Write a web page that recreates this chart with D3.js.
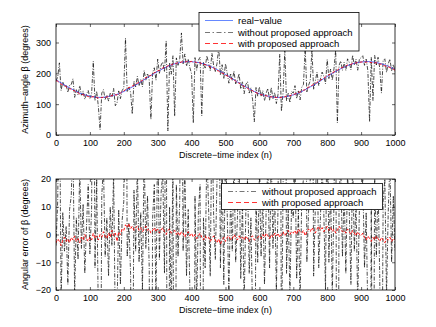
<!DOCTYPE html>
<html><head><meta charset="utf-8">
<script src="https://cdn.jsdelivr.net/npm/d3@7/dist/d3.min.js"></script>
<style>body{margin:0;background:#fff}svg{display:block}text{font-family:"Liberation Sans",Arial,sans-serif;fill:#000}</style>
</head><body><div id="c"></div>
<script>
// n = 0,5,10,...,1000
const step = 5;
const realValue = [
179,176,172,169,165,162,159,156,153,150,
147,144,141,139,136,134,132,130,129,127,
126,125,124,123,122,122,122,122,122,123,
124,125,126,127,129,130,132,134,136,139,
141,144,147,150,153,156,159,162,165,169,
172,176,179,183,186,190,193,196,200,203,
206,209,212,215,218,220,223,225,227,229,
231,232,234,235,236,237,237,238,238,238,
238,237,237,236,235,234,232,231,229,227,
225,223,220,218,215,212,209,206,203,200,
196,193,190,186,183,179,176,172,169,165,
162,159,156,153,150,147,144,141,139,136,
134,132,130,129,127,126,125,124,123,122,
122,122,122,122,123,124,125,126,127,129,
130,132,134,136,139,141,144,147,150,153,
156,159,162,165,169,172,176,179,183,186,
190,193,196,200,203,206,209,212,215,218,
220,223,225,227,229,231,232,234,235,236,
237,237,238,238,238,238,237,237,236,235,
234,232,231,229,227,225,223,220,218,215,
212];
// angular error without proposed approach (degrees)
const errWithout = [
-4,12,62,-25,8,-6,3,-18,9,14,
35,-22,6,-9,24,-5,11,-14,3,18,
-7,9,115,-12,20,-30,-105,14,25,-8,
6,-15,10,-4,22,-35,-28,9,-18,5,
12,170,-8,4,-14,-88,16,-6,25,-10,
8,-20,30,-5,14,-12,-142,6,18,-25,
40,-9,15,22,-14,85,-210,10,-30,28,
-170,18,-8,12,95,-6,26,-15,9,-20,
-40,-198,14,-26,8,18,-170,6,-12,30,
10,-15,45,7,-9,20,75,-12,25,-18,
35,8,-22,14,-6,28,-10,5,30,-16,
12,-25,8,20,-14,6,-30,-98,15,-10,
22,-8,14,-18,9,25,-12,30,-5,16,
-20,10,140,-45,18,150,-14,9,-22,12,
6,28,-16,9,-25,14,20,135,-10,8,
20,118,-15,10,35,-12,6,25,8,-20,
55,-10,18,-22,12,70,-170,14,25,-8,
16,-14,22,9,-18,28,-6,12,-25,10,
14,20,-12,8,-30,-195,15,-125,22,-8,
18,-15,-95,12,20,-22,8,26,-10,14,
-6];
// angular error with proposed approach (degrees)
const errWith = [
-3,-1.5,-2.5,-4,-2,-1,-2.5,-1.5,-3,-1,
-2,-0.5,-2.5,-1.5,-3,-1,-2,0,-1.5,-2.5,
-1,-2,0.5,-1.5,-0.5,-2,0,-1,1,-0.5,
-1.5,0.5,-1,1.5,-0.5,0.5,-2.5,1,0,2,
1.5,3.5,2.5,4,2,3,1.5,2.5,3,1.5,
2.5,1,2,3,1.5,2,0.5,1.5,2.5,1,
2,0.5,1.5,2.5,1,0,1.5,2,0.5,1,
1.5,0,1,-0.5,1,0.5,-1,0.5,1,-0.5,
0.5,-1,0,-1.5,-0.5,0.5,-1,-2,-0.5,-1.5,
-1,-2.5,-1.5,-0.5,-2,-3,-1.5,-3.5,-2,-1,
-2.5,-1,-0.5,-2,-1.5,0,-1,-2,-0.5,-1.5,
-1,-2,-0.5,-1.5,-2.5,-1,-0.5,-2,-1.5,-1,
-0.5,-1.5,0,-1,0.5,-0.5,-1.5,0,-1,0.5,
-0.5,0.5,-1,0,1,-0.5,0.5,1.5,0,1,
0.5,1.5,0,2,1,0.5,1.5,-0.5,1,2,
1,2.5,1.5,0.5,2,3,1.5,2.5,1,2,
3,1.5,2.5,1,2,0.5,1.5,3,2,1,
1.5,0.5,2,1,0,1.5,0.5,-0.5,1,0,
-0.5,0.5,-1,-2,-0.5,-1.5,-2.5,-1,-2,-0.5,
-1.5,-2.5,-1,-2,-3,-1.5,-2,-1,-2.5,-1.5,
-2];
const xTicks = [0,100,200,300,400,500,600,700,800,900,1000];
const yTicksTop = [0,100,200,300];
const yTicksBot = [-20,-10,0,10,20];
const legendTop = ["real\u2212value","without proposed approach","with proposed approach"];
const legendBot = ["without proposed approach","with proposed approach"];
const xLabel = "Discrete\u2212time index (n)";
const yLabelTop = "Azimuth\u2212angle \u03b2 (degrees)";
const yLabelBot = "Angular error of \u03b2 (degrees)";

const W=436,H=327;
const svg=d3.select("#c").append("svg").attr("width",W).attr("height",H);
const L=56,R=395;
const x=d3.scaleLinear().domain([0,1000]).range([L,R]);
const nIdx = realValue.map((_,i)=>i*step);

const topWithout = realValue.map((v,i)=>v+errWithout[i]);
const topWith = realValue.map((v,i)=>v+errWith[i]);

const sty={
  real:{stroke:"#2244ff",dash:null,w:0.8},
  without:{stroke:"#000",dash:"4,1.5,1,1.5",w:0.7},
  with:{stroke:"#ff0000",dash:"3,2",w:0.9}
};
const legDash={real:null,without:"5,2.5,1.5,2.5",with:"5,3"};
const legCol={real:"#6688ff",without:"#777",with:"#ff3333"};
const FS=9;

function panel(id,y0,y1,yDom,yTicks,series,yLab,xlabY,legend){
  const y=d3.scaleLinear().domain(yDom).range([y1,y0]);
  const g=svg.append("g");
  g.append("clipPath").attr("id",id).append("rect").attr("x",L).attr("y",y0).attr("width",R-L).attr("height",y1-y0);
  const pg=g.append("g").attr("clip-path",`url(#${id})`);
  series.forEach(s=>{
    const line=d3.line().x((d,i)=>x(nIdx[i])).y(d=>y(d));
    pg.append("path").attr("d",line(s.data)).attr("fill","none")
      .attr("stroke",sty[s.k].stroke).attr("stroke-width",sty[s.k].w)
      .attr("stroke-dasharray",sty[s.k].dash);
  });
  const ax=d3.axisBottom(x).tickValues(xTicks).tickSize(-3).tickPadding(5).tickFormat(d3.format("d"));
  const axT=d3.axisTop(x).tickValues(xTicks).tickSize(-3).tickFormat("");
  const ay=d3.axisLeft(y).tickValues(yTicks).tickSize(-3).tickPadding(5).tickFormat(d=>d<0?"\u2212"+Math.abs(d):d);
  const ayR=d3.axisRight(y).tickValues(yTicks).tickSize(-3).tickFormat("");
  [[ax,`translate(0,${y1})`],[axT,`translate(0,${y0})`],[ay,`translate(${L},0)`],[ayR,`translate(${R},0)`]].forEach(([a,t])=>{
    const ga=g.append("g").attr("transform",t).call(a);
    ga.select(".domain").remove();
    ga.selectAll("line").attr("stroke","#000").attr("stroke-width",0.6);
    ga.selectAll("text").attr("font-size",FS).attr("font-family","Liberation Sans, Arial, sans-serif");
  });
  g.append("rect").attr("x",L).attr("y",y0).attr("width",R-L).attr("height",y1-y0)
    .attr("fill","none").attr("stroke","#000").attr("stroke-width",0.8);
  g.append("text").attr("x",(L+R)/2).attr("y",xlabY).attr("text-anchor","middle").attr("font-size",FS).text(xLabel);
  g.append("text").attr("transform",`translate(${yLab.x},${(y0+y1)/2}) rotate(-90)`).attr("text-anchor","middle").attr("font-size",FS).text(yLab.t);
  const lg=g.append("g");
  lg.append("rect").attr("x",legend.x0).attr("y",legend.y0).attr("width",legend.x1-legend.x0).attr("height",legend.y1-legend.y0)
    .attr("fill","#fff").attr("stroke","#000").attr("stroke-width",0.8);
  legend.items.forEach((it,i)=>{
    const yy=legend.rows[i];
    lg.append("line").attr("x1",legend.sx0).attr("x2",legend.sx1).attr("y1",yy).attr("y2",yy)
      .attr("stroke",legCol[it.k]).attr("stroke-width",1).attr("stroke-dasharray",legDash[it.k]);
    lg.append("text").attr("x",legend.tx).attr("y",yy+3.2).attr("font-size",FS+0.5).text(it.t);
  });
}

panel("cpTop",24,135,[0,360],yTicksTop,
  [{k:"without",data:topWithout},{k:"real",data:realValue},{k:"with",data:topWith}],
  {x:28,t:yLabelTop},157.5,
  {x0:199,x1:359,y0:12.5,y1:51,sx0:205,sx1:233,tx:238,rows:[20.5,32.5,43.5],
   items:[{k:"real",t:legendTop[0]},{k:"without",t:legendTop[1]},{k:"with",t:legendTop[2]}]});

panel("cpBot",179,290,[-20,20],yTicksBot,
  [{k:"without",data:errWithout},{k:"with",data:errWith}],
  {x:28,t:yLabelBot},312.5,
  {x0:221.5,x1:382.5,y0:183.5,y1:209.5,sx0:228,sx1:257,tx:262,rows:[191.5,202.5],
   items:[{k:"without",t:legendBot[0]},{k:"with",t:legendBot[1]}]});
</script></body></html>
